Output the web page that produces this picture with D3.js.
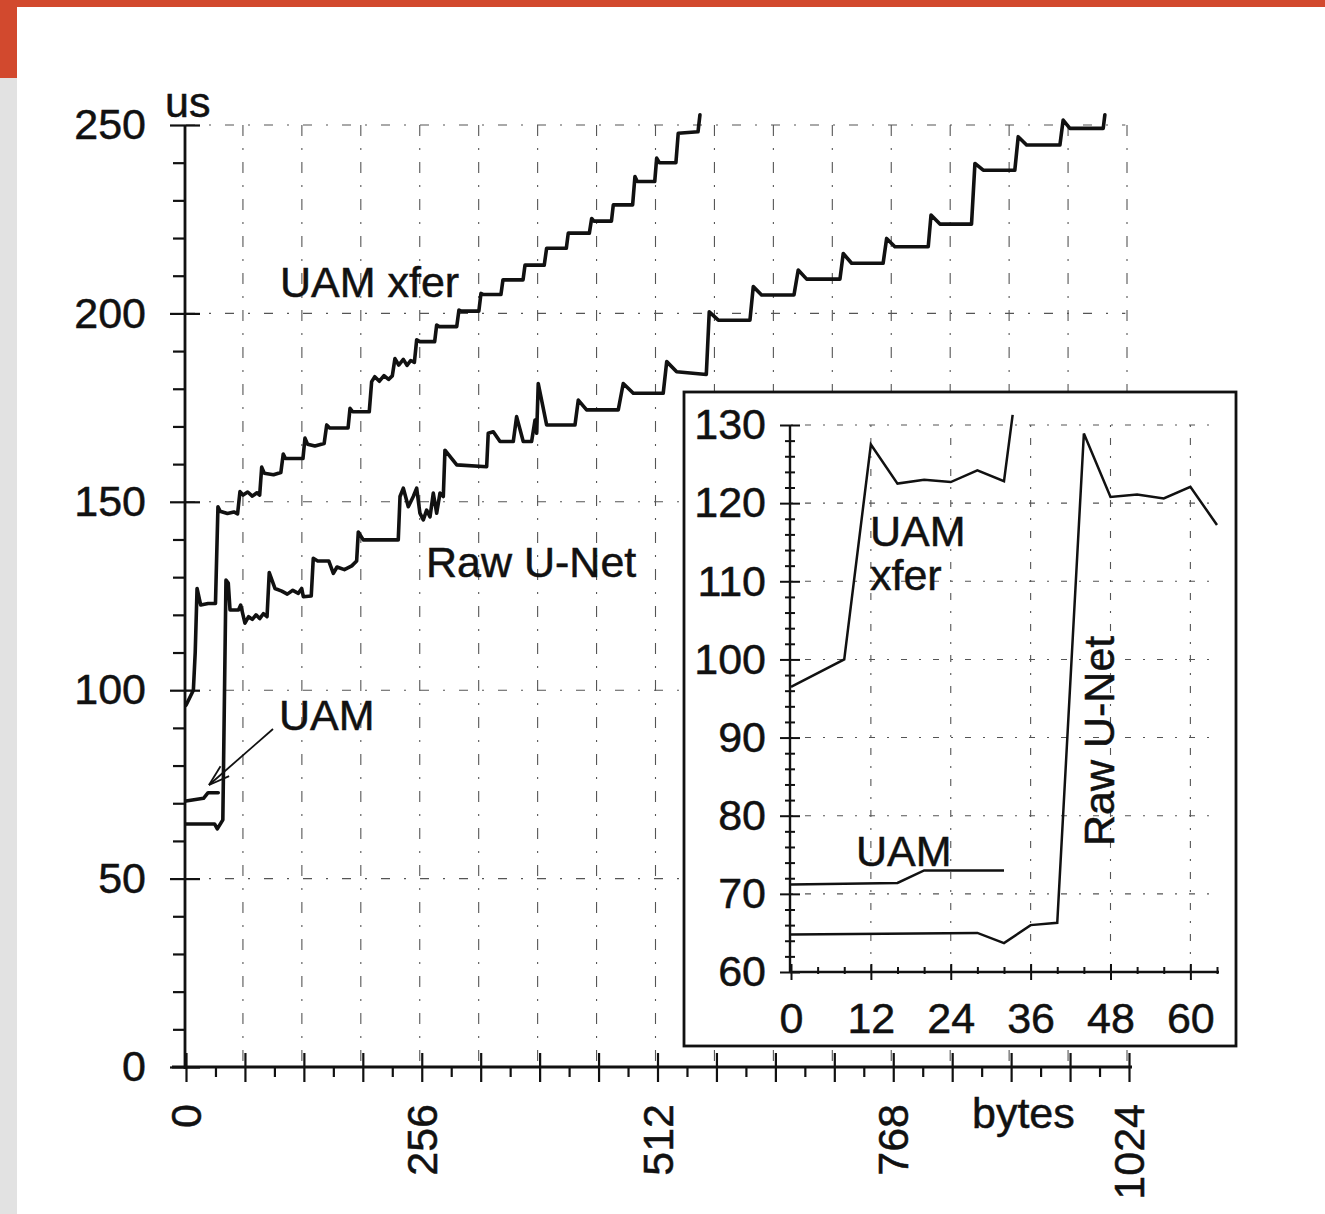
<!DOCTYPE html>
<html><head><meta charset="utf-8">
<script src="https://cdn.jsdelivr.net/npm/d3@7"></script>
<style>
body{margin:0;background:#fff}
svg text{font-family:"Liberation Sans",Arial,Helvetica,sans-serif;fill:#111;stroke:#111;stroke-width:0.5}
</style>
</head><body>
<svg id="c" width="1325" height="1214"></svg>
<script>
// ---------- data ----------
const mainXTicks = [0, 256, 512, 768, 1024];
const mainYTicks = [0, 50, 100, 150, 200, 250];
const insetXTicks = [0, 12, 24, 36, 48, 60];
const insetYTicks = [60, 70, 80, 90, 100, 110, 120, 130];

// main panel series: [bytes, us]
const uamXferMain = [[0,96],[4,98],[8,100],[10,110],[12,127],[16,122.6],[24,123],[32,123],[34.7,148.7],[37,147.5],[45,146.9],[52,147.3],[56,146.8],[58.6,152.7],[62,151.8],[67,152.6],[72,151.5],[77,152.4],[80,151.8],[82.2,159.2],[85,157.6],[95,157.2],[103,157.8],[105.6,162.7],[108,161.5],[127,161.5],[129.2,166.9],[132,165.3],[140,164.8],[150,165.5],[152.8,170.4],[156,169.6],[176,169.6],[178.1,174.8],[181,173.9],[199,173.9],[201.6,181.9],[205,183.2],[210,182],[215,183.5],[220,182.5],[224,183.4],[226.9,188],[231,186.3],[236,187.8],[240,186.2],[244,187.5],[248,187],[250.5,193],[254,192.5],[270,192.5],[272.2,196.9],[275,196.5],[294,196.5],[296.4,200.9],[299,200.6],[318,200.6],[320.3,205.3],[323,205],[342,205],[344.2,208.9],[366,208.9],[368.1,212.8],[389,212.8],[391.6,217.3],[413,217.3],[415.1,221.3],[438,221.3],[440.5,225.2],[443,224.5],[462,224.5],[464,228.8],[485,228.8],[487.5,236.3],[490,235],[509,235],[511.1,241.2],[514,240],[532,240],[534.5,247.8],[556,248.2],[558.1,252.7]];

const rawUNetMain = [[0,64.5],[31,64.5],[34,63.2],[40,65.6],[43.4,129.2],[45.9,128.4],[47.8,121.3],[57,121.3],[59.4,122.6],[64,117.8],[68,119.5],[72,118.8],[76,120],[80,119],[84,120.3],[88,119.5],[90.4,131.2],[96.6,127],[104,126.3],[110,125.5],[116,126.5],[122,125.7],[125.6,127],[127.4,124.8],[136,125],[138.2,135],[143,134.3],[155,134.3],[160,131],[164,132.7],[172,132],[180,133],[185.3,134.3],[187.1,142],[192.5,139.9],[230.5,139.9],[232.4,151.4],[236,153.6],[241.4,148.7],[246.8,151.4],[250.5,153.6],[254,147],[257.7,145.2],[261.3,147.8],[265,146],[268.5,152.3],[272.2,147],[275.8,152.3],[279.4,151.4],[281.2,163.7],[294,159.8],[326.5,159.3],[328.2,168.2],[333.7,168.6],[341,166],[355.4,166],[359,172.6],[366.2,166],[375.3,166],[379,171.7],[380.8,168.2],[382.5,181.4],[391.6,170.4],[422.4,170.4],[426,177],[435,174.4],[469.4,174.4],[474.8,181.4],[485.7,178.8],[518.2,178.8],[522,187.2],[532.8,184.5],[565,183.8],[568.2,200.4],[578,198.2],[612.4,198.2],[616,207.1],[625,204.9],[660.2,204.9],[664.8,211.5],[674,209.1],[710.1,209.1],[713.7,215.9],[722.8,213.3],[757,213.3],[760.8,219.9],[769.8,217.7],[806,217.7],[809,226.1],[818.7,223.7],[853,223.7],[856.7,239.8],[865.7,238],[900,238],[903.7,246.9],[912.8,244.7],[949,244.7],[952.5,251.3],[959.8,249.1],[996,249.1],[997.8,252.7]];

const uamMain = [[0,70.6],[19,71.3],[24,72.8],[35,72.8]];

// inset panel series: [bytes, us]
const uamXferInset = [[0,96.5],[8,100],[12,127.5],[16,122.5],[20,123],[24,122.7],[28,124.2],[32,122.8],[33.3,131.3]];
const rawUNetInset = [[0,64.8],[28,65],[32,63.7],[36,66],[40,66.3],[44,128.9],[48,120.8],[52,121.1],[56,120.6],[60,122.1],[64,117.2]];
const uamInset = [[0,71.2],[16,71.4],[20,73],[32,73]];

// ---------- drawing ----------
const svg = d3.select("#c");
const INK = "#111";
const FS = 43;

svg.append("rect").attr("width",1325).attr("height",1214).attr("fill","#fff");
svg.append("rect").attr("x",0).attr("y",0).attr("width",1325).attr("height",7).attr("fill","#d2492e");
svg.append("rect").attr("x",0).attr("y",0).attr("width",17).attr("height",78).attr("fill","#d2492e");
svg.append("rect").attr("x",0).attr("y",78).attr("width",17).attr("height",1136).attr("fill","#e2e2e2");

// main scales
const x = d3.scaleLinear().domain([0,1024]).range([186,1129]);
const y = d3.scaleLinear().domain([0,250]).range([1067,125]);

const g = svg.append("g");

// grid
g.selectAll("line.vg").data(d3.range(64,1025,64)).join("line")
  .attr("x1",d=>x(d)-2).attr("x2",d=>x(d)-2).attr("y1",y(250)).attr("y2",y(0))
  .attr("stroke","#555").attr("stroke-width",1.1).attr("stroke-dasharray","11,12,2,12");
g.selectAll("line.hg").data(mainYTicks.filter(d=>d>0)).join("line")
  .attr("x1",x(0)).attr("x2",x(1020)).attr("y1",d=>y(d)).attr("y2",d=>y(d))
  .attr("stroke","#555").attr("stroke-width",1.1).attr("stroke-dasharray","9,14,2,14");

// y axis
const yAxisG = g.append("g").attr("transform",`translate(${x(0)-1},0)`)
  .call(d3.axisLeft(y).tickValues(d3.range(0,251,10)).tickSize(12).tickSizeOuter(0).tickFormat(""));
yAxisG.select(".domain").remove();
yAxisG.selectAll(".tick line").attr("stroke",INK).attr("stroke-width",2.2)
  .attr("x1",d=>d%50===0?15:0).attr("x2",d=>d%50===0?-15:-12);
g.append("line").attr("x1",x(0)-1).attr("x2",x(0)-1).attr("y1",y(250)).attr("y2",y(0)+2)
  .attr("stroke",INK).attr("stroke-width",2.8);
const yLab = g.append("g").attr("transform",`translate(${x(0)-1},0)`)
  .call(d3.axisLeft(y).tickValues(mainYTicks).tickSize(0).tickPadding(39));
yLab.select(".domain").remove();
yLab.selectAll("text").attr("font-size",FS).attr("font-family","Liberation Sans, Arial, sans-serif").attr("fill",INK);

// x axis
const xAxisG = g.append("g").attr("transform",`translate(0,${y(0)})`)
  .call(d3.axisBottom(x).tickValues(d3.range(0,1025,32)).tickSize(10).tickSizeOuter(0).tickFormat(""));
xAxisG.select(".domain").remove();
xAxisG.selectAll(".tick line").attr("stroke",INK).attr("stroke-width",2.2)
  .attr("y1",d=>d%64===0?-14:0).attr("y2",d=>d%64===0?15:10);
g.append("line").attr("x1",172).attr("x2",x(1024)+3).attr("y1",y(0)).attr("y2",y(0))
  .attr("stroke",INK).attr("stroke-width",2.8);
g.selectAll("text.xl").data(mainXTicks).join("text").attr("class","xl")
  .attr("transform",d=>`translate(${x(d)+15},1104) rotate(-90)`)
  .attr("text-anchor","end").attr("font-size",FS).text(d=>d);
g.append("text").attr("x",972).attr("y",1128).attr("font-size",FS).text("bytes");
g.append("text").attr("x",165).attr("y",117).attr("font-size",FS).text("us");

// lines
const lineM = d3.line().x(d=>x(d[0])).y(d=>y(d[1]));
[uamXferMain, rawUNetMain, uamMain].forEach(s=>{
  g.append("path").datum(s).attr("d",lineM).attr("fill","none")
    .attr("stroke",INK).attr("stroke-width",3.6).attr("stroke-linejoin","round").attr("stroke-linecap","round");
});

// main labels
g.append("text").attr("x",280).attr("y",297).attr("font-size",FS).text("UAM xfer");
g.append("text").attr("x",426).attr("y",577).attr("font-size",FS).text("Raw U-Net");
g.append("text").attr("x",279).attr("y",730).attr("font-size",FS).text("UAM");

// arrow
const tail = [273,729], tip = [209,785];
g.append("line").attr("x1",tail[0]).attr("y1",tail[1]).attr("x2",tip[0]).attr("y2",tip[1])
  .attr("stroke",INK).attr("stroke-width",1.8);
const ang = Math.atan2(tail[1]-tip[1], tail[0]-tip[0]);
[-0.3,0.3].forEach(da=>{
  g.append("line").attr("x1",tip[0]).attr("y1",tip[1])
    .attr("x2",tip[0]+22*Math.cos(ang+da)).attr("y2",tip[1]+22*Math.sin(ang+da))
    .attr("stroke",INK).attr("stroke-width",1.8);
});

// ---------- inset ----------
const ig = svg.append("g");
ig.append("rect").attr("x",684).attr("y",392).attr("width",552).attr("height",654)
  .attr("fill","#fff").attr("stroke",INK).attr("stroke-width",2.8);

const xi = d3.scaleLinear().domain([0,64]).range([791,1217]);
const yi = d3.scaleLinear().domain([60,130]).range([972,425]);

ig.selectAll("line.ivg").data(insetXTicks.filter(d=>d>0)).join("line")
  .attr("x1",d=>xi(d)).attr("x2",d=>xi(d)).attr("y1",yi(130)).attr("y2",yi(60))
  .attr("stroke","#555").attr("stroke-width",1.1).attr("stroke-dasharray","2,11,7,11");
ig.selectAll("line.ihg").data(insetYTicks.filter(d=>d>60)).join("line")
  .attr("x1",xi(0)).attr("x2",xi(63)).attr("y1",d=>yi(d)).attr("y2",d=>yi(d))
  .attr("stroke","#555").attr("stroke-width",1.1).attr("stroke-dasharray","2,12,6,12");

const iyAxis = ig.append("g").attr("transform",`translate(${xi(0)-1},0)`)
  .call(d3.axisLeft(yi).tickValues(d3.range(60,131,2)).tickSize(6).tickSizeOuter(0).tickFormat(""));
iyAxis.select(".domain").remove();
iyAxis.selectAll(".tick line").attr("stroke",INK).attr("stroke-width",2)
  .attr("x1",d=>d%10===0?10:5).attr("x2",d=>d%10===0?-10:-5);
ig.append("line").attr("x1",xi(0)-1).attr("x2",xi(0)-1).attr("y1",yi(130)).attr("y2",yi(60))
  .attr("stroke",INK).attr("stroke-width",2.4);
const iyLab = ig.append("g").attr("transform",`translate(${xi(0)-1},0)`)
  .call(d3.axisLeft(yi).tickValues(insetYTicks).tickSize(0).tickPadding(24));
iyLab.select(".domain").remove();
iyLab.selectAll("text").attr("font-size",FS).attr("font-family","Liberation Sans, Arial, sans-serif").attr("fill",INK);

const ixAxis = ig.append("g").attr("transform",`translate(0,${yi(60)})`)
  .call(d3.axisBottom(xi).tickValues(d3.range(0,65,4)).tickSize(5).tickSizeOuter(0).tickFormat(""));
ixAxis.select(".domain").remove();
ixAxis.selectAll(".tick line").attr("stroke",INK).attr("stroke-width",2)
  .attr("y1",d=>d%12===0?-8:-5).attr("y2",d=>d%12===0?8:2);
ig.append("line").attr("x1",xi(0)-1).attr("x2",xi(64)+2).attr("y1",yi(60)).attr("y2",yi(60))
  .attr("stroke",INK).attr("stroke-width",2.4);
const ixLab = ig.append("g").attr("transform",`translate(0,${yi(60)})`)
  .call(d3.axisBottom(xi).tickValues(insetXTicks).tickSize(0).tickPadding(30));
ixLab.select(".domain").remove();
ixLab.selectAll("text").attr("font-size",FS).attr("font-family","Liberation Sans, Arial, sans-serif").attr("fill",INK);

const lineI = d3.line().x(d=>xi(d[0])).y(d=>yi(d[1]));
[uamXferInset, rawUNetInset, uamInset].forEach(s=>{
  ig.append("path").datum(s).attr("d",lineI).attr("fill","none")
    .attr("stroke",INK).attr("stroke-width",2.5).attr("stroke-linejoin","miter");
});

ig.append("text").attr("x",870).attr("y",546).attr("font-size",FS).text("UAM");
ig.append("text").attr("x",870).attr("y",590).attr("font-size",FS).text("xfer");
ig.append("text").attr("x",856).attr("y",866).attr("font-size",FS).text("UAM");
ig.append("text").attr("transform","translate(1114,846) rotate(-90)").attr("font-size",FS).text("Raw U-Net");
</script>
</body></html>
